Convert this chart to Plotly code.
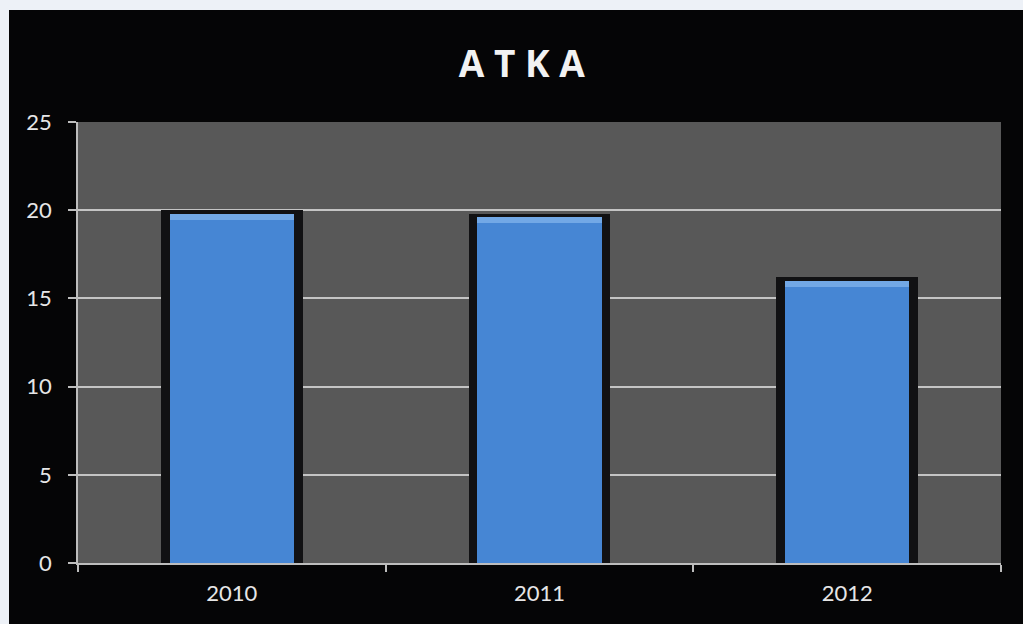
import plotly.graph_objects as go

# Chart data
years = ["2010", "2011", "2012"]
values = [19.8, 19.6, 16.0]
y_ticks = [0, 5, 10, 15, 20, 25]

title_text = "A T K A"

fig = go.Figure()

# dark drop shadow behind each bar
fig.add_trace(go.Bar(
    x=years, y=[v + 0.2 for v in values],
    width=0.46,
    marker=dict(color="#111113", line=dict(width=0)),
    hoverinfo="skip", showlegend=False,
))

# main blue bars
fig.add_trace(go.Bar(
    x=years, y=values,
    width=0.405,
    marker=dict(color="#4686d4", line=dict(width=0)),
    showlegend=False,
))

# light bevel along the top of each bar
fig.add_trace(go.Bar(
    x=years, y=[0.35] * len(values), base=[v - 0.35 for v in values],
    width=0.405,
    marker=dict(color="#72a8e6", line=dict(width=0)),
    hoverinfo="skip", showlegend=False,
))

fig.update_layout(
    width=1023, height=624,
    barmode="overlay",
    bargap=0,
    paper_bgcolor="#050506",
    plot_bgcolor="#585858",
    margin=dict(l=78, r=22, t=122, b=61),
    title=dict(
        text=title_text,
        x=0.51, xanchor="center",
        y=0.897, yanchor="middle",
        font=dict(family="Open Sans", size=37, color="#f2f2f2", weight="bold"),
    ),
    font=dict(family="Lato", color="#e6e6e6"),
    shapes=[
        # light margin strips along the top and left edges
        dict(type="rect", xref="paper", yref="paper",
             x0=-0.2, x1=1.2, y0=(563 - 10) / 441, y1=1.4,
             fillcolor="#edf1f7", line=dict(width=0), layer="above"),
        dict(type="rect", xref="paper", yref="paper",
             x0=-0.2, x1=(9 - 78) / 923, y0=-0.3, y1=1.4,
             fillcolor="#edf1f7", line=dict(width=0), layer="above"),
    ],
)

fig.update_xaxes(
    type="category",
    tickson="boundaries",
    ticks="outside", ticklen=7, tickcolor="#bdbdbd", tickwidth=1.5,
    showline=True, linecolor="#bdbdbd", linewidth=1.5,
    showgrid=False,
    ticklabelstandoff=10,
    tickfont=dict(family="Lato", size=22, color="#e6e6e6"),
)

fig.update_yaxes(
    range=[0, 25],
    tickvals=y_ticks,
    ticks="outside", ticklen=8, tickcolor="#bdbdbd", tickwidth=1.5,
    showline=True, linecolor="#bdbdbd", linewidth=1.5,
    showgrid=True, gridcolor="#c4c4c4", gridwidth=1.5,
    zeroline=False,
    ticklabelstandoff=12,
    tickfont=dict(family="Lato", size=22, color="#e6e6e6"),
)

fig.write_html("out.html")
